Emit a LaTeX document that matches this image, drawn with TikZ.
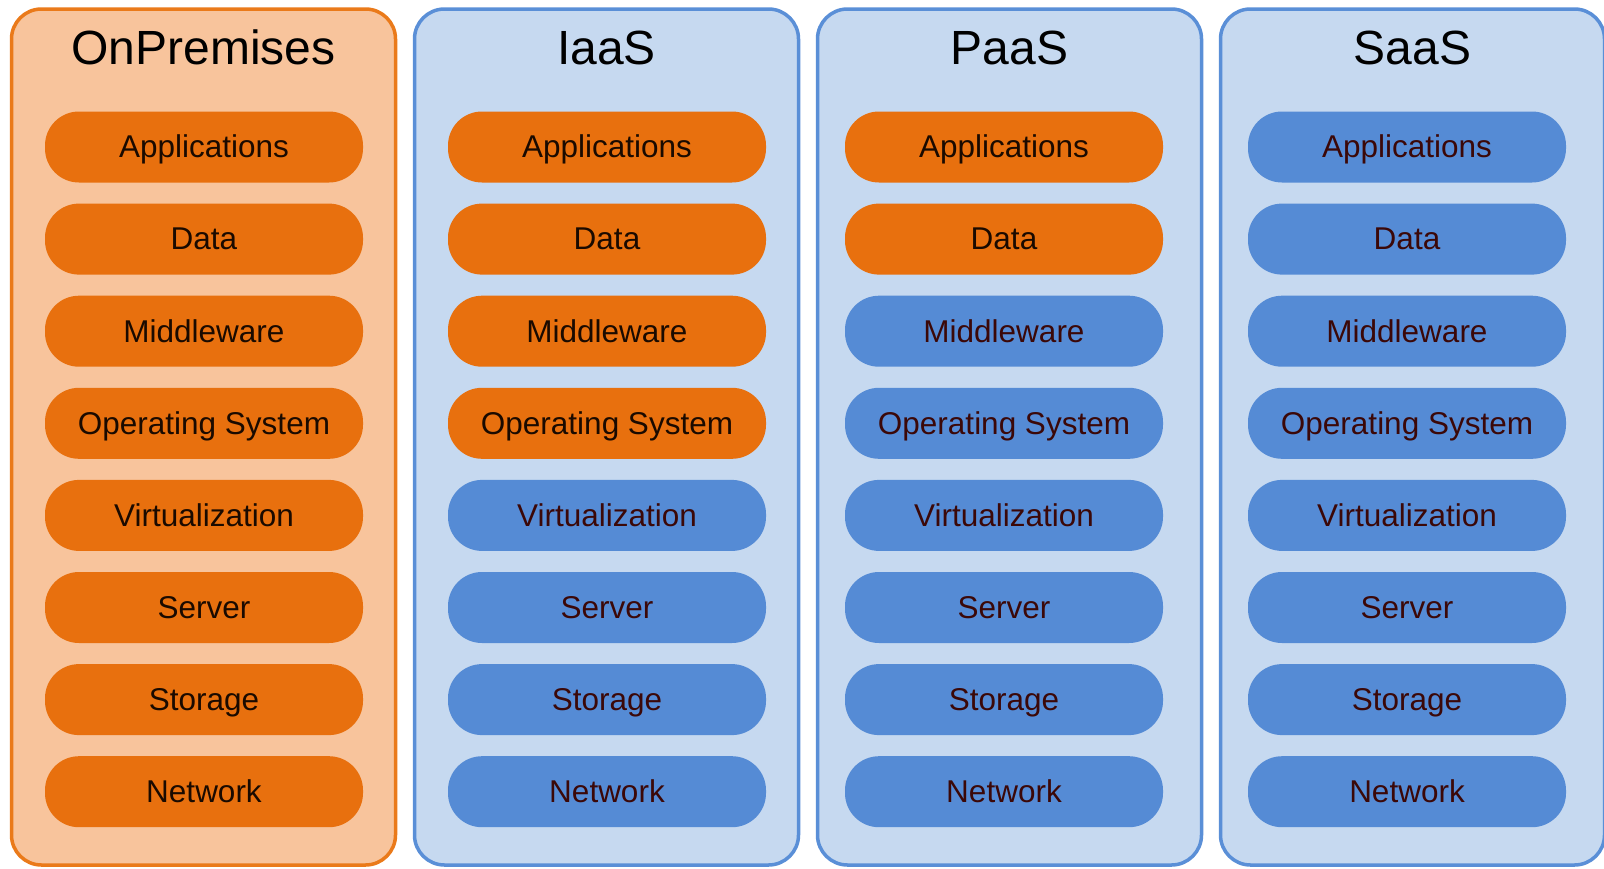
\documentclass[tikz,border=0pt]{standalone}
\usepackage{fontspec}
\setmainfont{Liberation Sans}
\usetikzlibrary{positioning}

\definecolor{premfill}{HTML}{F8C49C}
\definecolor{premline}{HTML}{EA7A1A}
\definecolor{cloudfill}{HTML}{C6D9F0}
\definecolor{cloudline}{HTML}{5A8FD7}
\definecolor{pillorange}{HTML}{E8700E}
\definecolor{pillblue}{HTML}{558BD5}
\definecolor{inkdark}{HTML}{1A0A00}
\definecolor{inkred}{HTML}{3B0808}

\begin{document}
\begin{tikzpicture}[x=1pt,y=-1pt,
  stackbox/.style={line width=3.5pt,rounded corners=30pt,
    minimum width=384pt,minimum height=856pt},
  prembox/.style={stackbox,draw=premline,fill=premfill},
  cloudbox/.style={stackbox,draw=cloudline,fill=cloudfill},
  heading/.style={font=\fontsize{48}{54}\selectfont,
    text height=33pt,text depth=0pt,inner sep=0pt},
  layer/.style={rounded corners=34pt,minimum width=318pt,
    minimum height=71pt,inner sep=0pt,text height=21.7pt,text depth=0pt,
    font=\fontsize{31.5}{36}\selectfont},
  mine/.style={layer,fill=pillorange,text=inkdark},
  theirs/.style={layer,fill=pillblue,text=inkred}]
  \useasboundingbox (0,0) rectangle (1604,868);

  % one column per service model
  \foreach \key/\name/\own/\sty/\px [count=\i from 0] in
    {opm/OnPremises/8/prembox/204,iaas/IaaS/4/cloudbox/607,
     paas/PaaS/2/cloudbox/1004,saas/SaaS/0/cloudbox/1407}{
    \node[\sty] (\key) at ({203.5+403*\i},437) {};
    \node[heading] (\key-title) at ({203.5+403*\i},48) {\name};
    % layers of the stack, top to bottom
    \foreach \row [count=\j from 0] in {Applications,Data,Middleware,
      Operating System,Virtualization,Server,Storage,Network}{
      \ifnum\j<\own\def\look{mine}\else\def\look{theirs}\fi
      \node[\look] (\key-\j) at (\px,{147+92.1*\j}) {\row};
    }
  }
\end{tikzpicture}
\end{document}
